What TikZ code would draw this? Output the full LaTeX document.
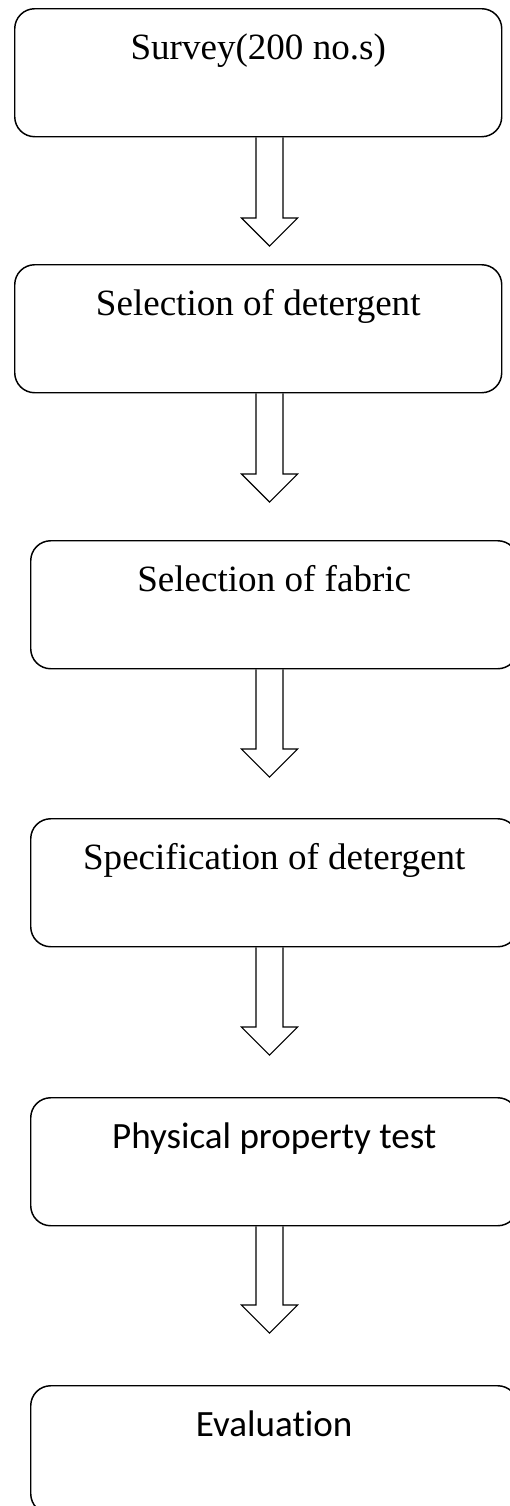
\documentclass[tikz,border=0pt]{standalone}
\usepackage{fontspec}
\setmainfont{Liberation Serif}
\newfontfamily\calibrifont[Ligatures=NoCommon]{Carlito}
\usetikzlibrary{calc}
\tikzset{
    stepbox/.style={draw, line width=1.1pt, rounded corners=15pt, anchor=north west,
        minimum width=365.25pt, inner xsep=0pt, inner ysep=0pt,
        text height=38.25pt, text depth=57.75pt,
        font=\fontsize{27.8}{33}\selectfont},
    sansbox/.style={stepbox, font=\calibrifont\fontsize{27.8}{33}\selectfont},
    blockarrow/.style={draw, line width=0.8pt, line join=miter}
}

\begin{document}
\begin{tikzpicture}[x=0.75pt, y=-0.75pt]
    % Page (lower boxes run off the right and bottom edge)
    \useasboundingbox (0,0) rectangle (510,1506);
    \clip (0,0) rectangle (510,1506);

    % Steps
    \node[stepbox] (survey) at (14,8) {Survey(200 no.s)};
    \node[stepbox] (detsel) at (14,264) {Selection of detergent};
    \node[stepbox] (fabsel) at (30,540) {Selection of fabric};
    \node[stepbox] (detspec) at (30,818) {Specification of detergent};
    \node[sansbox] (phystest) at (30,1097) {Physical property test};
    \node[sansbox] (evaluation) at (30,1385) {Evaluation};

    % Arrow tips
    \coordinate (t1) at (269.5,246);
    \coordinate (t2) at (269.5,502);
    \coordinate (t3) at (269.5,777);
    \coordinate (t4) at (269.5,1055);
    \coordinate (t5) at (269.5,1333);

    % Hollow block arrows
    \foreach \from/\tip in {survey/t1, detsel/t2, fabsel/t3, detspec/t4, phystest/t5} {
        \draw[blockarrow] ($(\from.south -| \tip)+(-13.5,0)$) |- ($(\tip)+(-28,-28)$)
            -- (\tip) -- ($(\tip)+(28,-28)$) -| ($(\from.south -| \tip)+(13.5,0)$);
    }
\end{tikzpicture}
\end{document}
